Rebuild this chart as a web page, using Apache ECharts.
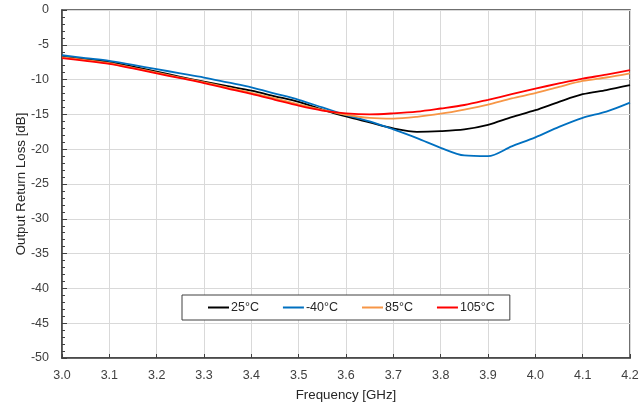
<!DOCTYPE html>
<html>
<head>
<meta charset="utf-8">
<script src="https://cdn.jsdelivr.net/npm/echarts@6/dist/echarts.min.js"></script>
<style>html,body{margin:0;padding:0;background:#fff}#c{width:643px;height:409px}</style>
</head>
<body>
<div id="c"></div>
<script>
const freqs = [3.00,3.05,3.10,3.15,3.20,3.25,3.30,3.35,3.40,3.45,3.50,3.55,3.60,3.65,3.70,3.75,3.80,3.85,3.90,3.95,4.00,4.05,4.10,4.15,4.20];
const s25 = [-6.7,-7.1,-7.5,-8.15,-8.85,-9.6,-10.3,-10.95,-11.6,-12.4,-13.2,-14.3,-15.3,-16.15,-17.0,-17.5,-17.4,-17.15,-16.5,-15.4,-14.4,-13.2,-12.1,-11.5,-10.8];
const sM40 = [-6.5,-6.9,-7.3,-7.9,-8.5,-9.1,-9.7,-10.4,-11.1,-12.0,-12.9,-14.0,-15.1,-16.0,-17.15,-18.4,-19.8,-20.9,-21.0,-19.6,-18.3,-16.8,-15.5,-14.6,-13.3];
const s85 = [-6.8,-7.2,-7.65,-8.3,-9.0,-9.7,-10.4,-11.15,-11.9,-12.7,-13.55,-14.35,-15.05,-15.5,-15.6,-15.35,-14.9,-14.3,-13.6,-12.7,-11.95,-11.05,-10.2,-9.7,-9.1];
const s105 = [-6.9,-7.3,-7.75,-8.4,-9.1,-9.8,-10.5,-11.3,-12.05,-12.9,-13.75,-14.45,-14.85,-15.0,-14.85,-14.6,-14.15,-13.65,-12.9,-12.1,-11.3,-10.55,-9.85,-9.3,-8.65];
const seriesNames = ['25°C','-40°C','85°C','105°C'];
const seriesData = [s25, sM40, s85, s105];
const colors = ['#000000','#0070C0','#F79646','#FF0000'];

const font = 'Liberation Sans';
const chart = echarts.init(document.getElementById('c'), null, {renderer:'canvas'});
chart.setOption({
  animation:false,
  backgroundColor:'#fff',
  grid:{left:62,right:13,top:10,bottom:51,show:true,borderColor:'#404040',borderWidth:1.5,containLabel:false},
  legend:{
    left:182, top:295, orient:'horizontal',
    padding:[6,15,6,26], itemGap:24, itemWidth:21, itemHeight:2,
    borderColor:'#404040', borderWidth:1, backgroundColor:'#fff',
    textStyle:{fontFamily:font,fontSize:12.5,color:'#262626',padding:[0,0,0,-3]},
    data:seriesNames.map((n,i)=>({name:n,icon:'rect',itemStyle:{color:colors[i]}}))
  },
  xAxis:{
    type:'value', min:3.0, max:4.2, interval:0.1,
    name:'Frequency [GHz]', nameLocation:'middle', nameGap:31,
    nameTextStyle:{fontFamily:font,fontSize:13.3,color:'#262626'},
    axisLine:{show:true,onZero:false,lineStyle:{color:'#404040',width:1.5}},
    axisTick:{show:true,inside:true,length:4,lineStyle:{color:'#404040'}},
    axisLabel:{fontFamily:font,fontSize:12.5,color:'#404040',margin:11,formatter:v=>v.toFixed(1)},
    splitLine:{show:true,lineStyle:{color:'#d9d9d9',width:1}}
  },
  yAxis:{
    type:'value', min:-50, max:0, interval:5,
    name:'Output Return Loss [dB]', nameLocation:'middle', nameGap:34, nameMoveOverlap:false,
    nameTextStyle:{fontFamily:font,fontSize:13.3,color:'#262626'},
    axisLine:{show:true,onZero:false,lineStyle:{color:'#404040',width:1.5}},
    axisTick:{show:true,inside:true,length:5,lineStyle:{color:'#404040'}},
    minorTick:{show:true,splitNumber:5,length:3,lineStyle:{color:'#404040'}},
    axisLabel:{fontFamily:font,fontSize:12.5,color:'#404040',margin:13},
    splitLine:{show:true,lineStyle:{color:'#d9d9d9',width:1}}
  },
  series:seriesNames.map((n,i)=>({
    name:n, type:'line', showSymbol:false, smooth:0.3,
    data:freqs.map((f,j)=>[f,seriesData[i][j]]),
    lineStyle:{color:colors[i],width:1.8},
    itemStyle:{color:colors[i]}
  }))
});
</script>
</body>
</html>
